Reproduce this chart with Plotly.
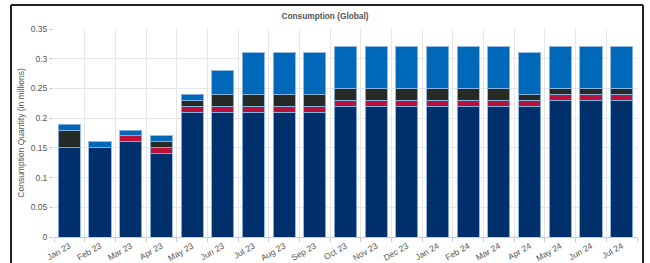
import plotly.graph_objects as go

months = ["Jan 23", "Feb 23", "Mar 23", "Apr 23", "May 23", "Jun 23", "Jul 23", "Aug 23",
          "Sep 23", "Oct 23", "Nov 23", "Dec 23", "Jan 24", "Feb 24", "Mar 24", "Apr 24",
          "May 24", "Jun 24", "Jul 24"]
series_navy = [0.15, 0.15, 0.16, 0.14, 0.21, 0.21, 0.21, 0.21, 0.21, 0.22, 0.22, 0.22, 0.22,
               0.22, 0.22, 0.22, 0.23, 0.23, 0.23]
series_red = [0, 0, 0.01, 0.01, 0.01, 0.01, 0.01, 0.01, 0.01, 0.01, 0.01, 0.01, 0.01,
              0.01, 0.01, 0.01, 0.01, 0.01, 0.01]
series_dark = [0.03, 0, 0, 0.01, 0.01, 0.02, 0.02, 0.02, 0.02, 0.02, 0.02, 0.02, 0.02,
               0.02, 0.02, 0.01, 0.01, 0.01, 0.01]
series_blue = [0.01, 0.01, 0.01, 0.01, 0.01, 0.04, 0.07, 0.07, 0.07, 0.07, 0.07, 0.07, 0.07,
               0.07, 0.07, 0.07, 0.07, 0.07, 0.07]
y_ticks = [0, 0.05, 0.1, 0.15, 0.2, 0.25, 0.3, 0.35]
y_tick_labels = ["0", "0.05", "0.1", "0.15", "0.2", "0.25", "0.3", "0.35"]

colors = ["#00306b", "#b8123a", "#252a25", "#0068b8"]
names = ["Series 1", "Series 2", "Series 3", "Series 4"]

fig = go.Figure()
for vals, c, n in zip([series_navy, series_red, series_dark, series_blue], colors, names):
    fig.add_trace(go.Bar(x=months, y=vals, name=n, marker=dict(color=c,
                         line=dict(color="rgba(140,180,225,0.9)", width=1))))

W, H = 650, 263
ml, mr, mt, mb = 54, 13, 29, 26
pw, ph = W - ml - mr, H - mt - mb

def px(x):
    return (x - ml) / pw

def py(y):
    return (H - mb - y) / ph

fig.update_layout(
    barmode="stack",
    bargap=0.28,
    width=W, height=H,
    margin=dict(l=ml, r=mr, t=mt, b=mb, autoexpand=False),
    paper_bgcolor="white", plot_bgcolor="white",
    showlegend=False,
    font=dict(family="Liberation Sans, Arial, sans-serif", size=9, color="#555"),
    title=dict(text="<b>Consumption (Global)</b>", x=0.5, xanchor="center",
               y=1 - 16 / H, yanchor="middle",
               font=dict(size=8.3, color="#555")),
    xaxis=dict(tickson="boundaries", showgrid=True, gridcolor="#e6e6e6", gridwidth=1,
               ticks="outside", ticklen=4, tickcolor="#ccc", tickangle=-30,
               showline=True, linecolor="#ccc", linewidth=1, automargin=False,
               tickfont=dict(size=8.5, color="#555"), fixedrange=True),
    yaxis=dict(range=[0, 0.35], tickvals=y_ticks, ticktext=y_tick_labels,
               showgrid=True, gridcolor="#e6e6e6", gridwidth=1, zeroline=False,
               ticks="outside", ticklen=4, tickcolor="#ccc", automargin=False,
               title=dict(text="Consumption Quantity (in millions)", standoff=4,
                          font=dict(size=8.5, color="#555")),
               tickfont=dict(size=8.5, color="#555")),
)

frame = dict(xref="paper", yref="paper", line=dict(color="#222", width=2), layer="above")
fig.add_shape(type="line", x0=px(11), x1=px(643), y0=py(5), y1=py(5), **frame)
fig.add_shape(type="line", x0=px(11), x1=px(11), y0=py(5), y1=py(H), **frame)
fig.add_shape(type="line", x0=px(643), x1=px(643), y0=py(5), y1=py(H), **frame)

fig.write_html("out.html", config={"displayModeBar": False},
               post_script="document.body.style.margin='0';")
